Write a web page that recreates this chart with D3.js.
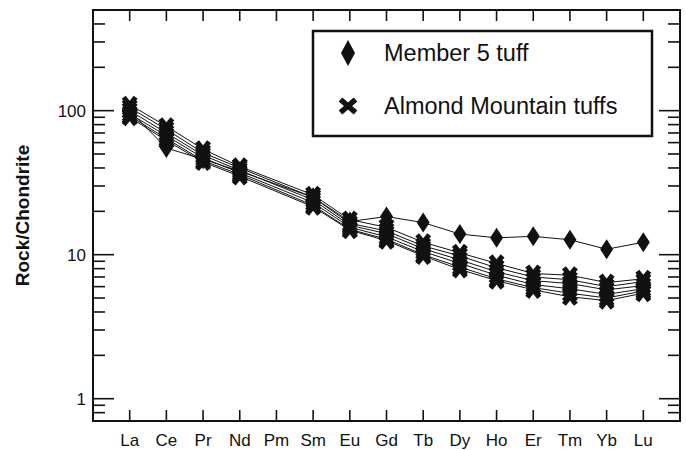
<!DOCTYPE html>
<html>
<head>
<meta charset="utf-8">
<script src="https://cdn.jsdelivr.net/npm/d3@7/dist/d3.min.js"></script>
<style>
html,body{margin:0;padding:0;background:#fff;}
svg{display:block;font-family:"Liberation Sans",Arial,Helvetica,sans-serif;}
</style>
</head>
<body>
<svg id="chart" width="686" height="450"></svg>
<script>
const elements = ["La","Ce","Pr","Nd","Pm","Sm","Eu","Gd","Tb","Dy","Ho","Er","Tm","Yb","Lu"];
const yTickLabels = [1, 10, 100];

// Member 5 tuff (diamonds); null = no data (Pm)
const member5 = [100, 55, 46, 38, null, 25, 17, 18.4, 16.7, 13.9, 13.1, 13.4, 12.7, 10.9, 12.2];

// Almond Mountain tuffs (crosses)
const almond1 = [110, 78, 54, 41, null, 26, 17.5, 15.5, 12.2, 10.3, 8.7, 7.4, 7.2, 6.4, 6.8];
const almond2 = [105, 74, 51, 40, null, 25, 16.5, 14.6, 11.5, 9.8, 8.1, 7.0, 6.7, 6.0, 6.5];
const almond3 = [100, 70, 49, 38.5, null, 24, 16, 14, 11, 9.2, 7.6, 6.6, 6.3, 5.7, 6.1];
const almond4 = [95, 67, 47, 37, null, 23, 15.5, 13.3, 10.5, 8.7, 7.2, 6.2, 5.8, 5.3, 5.8];
const almond5 = [92, 64, 45, 36, null, 22, 15, 12.8, 10, 8.2, 6.8, 5.9, 5.4, 5.0, 5.6];
const almond6 = [90, 62, 44, 35, null, 21.5, 14.8, 12.5, 9.8, 7.9, 6.6, 5.7, 5.1, 4.8, 5.4];

const legendLabels = ["Member 5 tuff", "Almond Mountain tuffs"];

const almondSeries = [almond1, almond2, almond3, almond4, almond5, almond6];

const svg = d3.select("#chart");
const L = 93, R = 680, T = 10, B = 421;

const x = d3.scalePoint().domain(elements).range([L, R]).padding(1);
const y = d3.scaleLog().domain([0.7, 500]).range([B, T]);

// minor/major y ticks
const yTicks = [];
for (let e = -1; e <= 2; e++) {
  for (let m = 1; m <= 9; m++) {
    const v = m * Math.pow(10, e);
    if (v >= 0.7 && v <= 500.001) yTicks.push(v);
  }
}
const isMajor = v => yTickLabels.some(t => Math.abs(t - v) < 1e-9);

const axisG = svg.append("g").attr("stroke", "#111").attr("fill", "none");

// tick marks
yTicks.forEach(v => {
  const len = isMajor(v) ? 21 : 12;
  axisG.append("line").attr("x1", L).attr("x2", L + len).attr("y1", y(v)).attr("y2", y(v)).attr("stroke-width", 1.6);
  axisG.append("line").attr("x1", R).attr("x2", R - len).attr("y1", y(v)).attr("y2", y(v)).attr("stroke-width", 1.6);
});
elements.forEach(el => {
  axisG.append("line").attr("x1", x(el)).attr("x2", x(el)).attr("y1", B).attr("y2", B - 11).attr("stroke-width", 1.6);
  axisG.append("line").attr("x1", x(el)).attr("x2", x(el)).attr("y1", T).attr("y2", T + 11).attr("stroke-width", 1.6);
});
// frame
axisG.append("rect").attr("x", L).attr("y", T).attr("width", R - L).attr("height", B - T).attr("stroke-width", 2);

// tick labels
svg.append("g").selectAll("text").data(yTickLabels).join("text")
  .attr("x", L - 7).attr("y", d => y(d)).attr("dy", "0.35em")
  .attr("text-anchor", "end").attr("font-size", 17).attr("fill", "#111")
  .text(d => d);

svg.append("g").selectAll("text").data(elements).join("text")
  .attr("x", d => x(d)).attr("y", 440).attr("dy", "0.35em")
  .attr("text-anchor", "middle").attr("font-size", 17).attr("fill", "#111")
  .text(d => d);

svg.append("text")
  .attr("transform", `translate(29,${(T + B) / 2}) rotate(-90)`)
  .attr("text-anchor", "middle").attr("font-size", 19).attr("font-weight", "bold").attr("fill", "#111")
  .text("Rock/Chondrite");

// lines
const line = d3.line()
  .defined(d => d.v != null)
  .x(d => x(d.el)).y(d => y(d.v));
const toPts = arr => arr.map((v, i) => ({el: elements[i], v}));

const allSeries = [...almondSeries.map(s => ({kind: "x", data: toPts(s)})), {kind: "d", data: toPts(member5)}];

const plotG = svg.append("g");
allSeries.forEach(s => {
  plotG.append("path").datum(s.data.filter(d => d.v != null))
    .attr("d", line).attr("fill", "none").attr("stroke", "#111").attr("stroke-width", 1);
});

function drawX(g, cx, cy, hw, hh, sw) {
  g.append("path")
    .attr("d", `M${cx - hw},${cy - hh}L${cx + hw},${cy + hh}M${cx - hw},${cy + hh}L${cx + hw},${cy - hh}`)
    .attr("stroke", "#111").attr("stroke-width", sw).attr("fill", "none");
}
function drawDiamond(g, cx, cy, hw, hh) {
  g.append("path")
    .attr("d", `M${cx},${cy - hh}L${cx + hw},${cy}L${cx},${cy + hh}L${cx - hw},${cy}Z`)
    .attr("fill", "#111");
}

allSeries.forEach(s => {
  s.data.filter(d => d.v != null).forEach(d => {
    if (s.kind === "x") drawX(plotG, x(d.el), y(d.v), 6, 7.5, 5);
    else drawDiamond(plotG, x(d.el), y(d.v), 6.5, 10);
  });
});

// legend
const lg = svg.append("g");
lg.append("rect").attr("x", 313).attr("y", 31).attr("width", 339).attr("height", 105)
  .attr("fill", "#fff").attr("stroke", "#111").attr("stroke-width", 2.5);
drawDiamond(lg, 348, 53, 7, 13);
drawX(lg, 348, 106, 7.5, 6.5, 5.5);
lg.selectAll("text").data(legendLabels).join("text")
  .attr("x", 384).attr("y", (d, i) => i === 0 ? 53 : 106).attr("dy", "0.35em")
  .attr("font-size", 23.5).attr("fill", "#111")
  .text(d => d);
</script>
</body>
</html>
